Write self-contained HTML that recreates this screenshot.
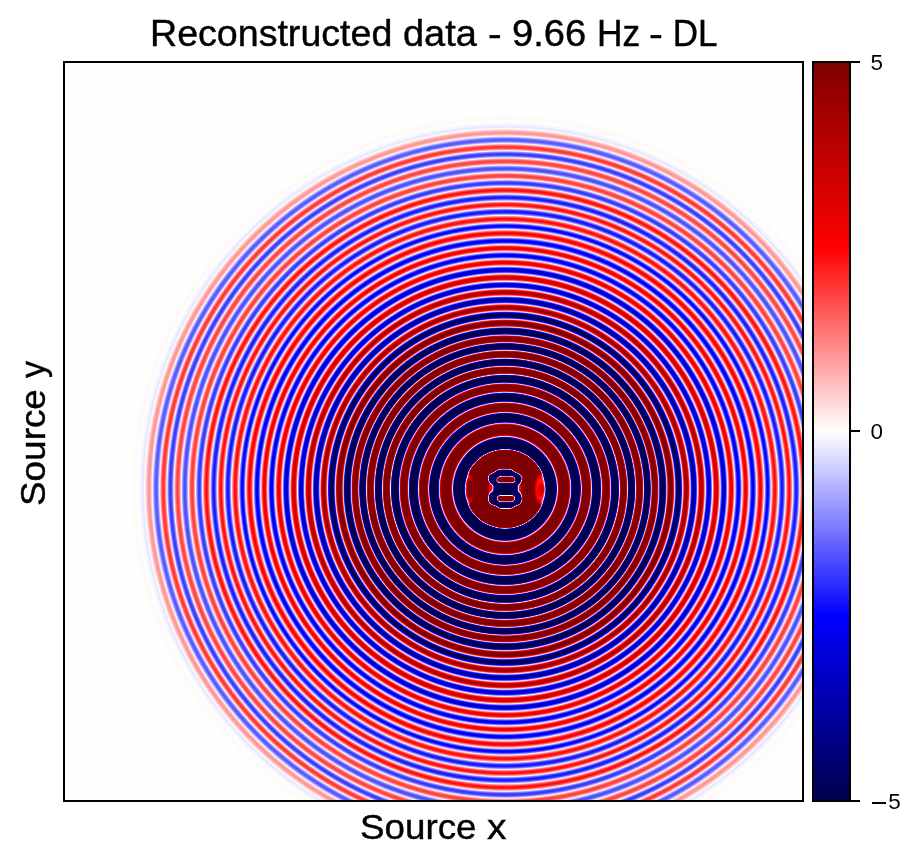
<!DOCTYPE html>
<html><head><meta charset="utf-8">
<style>
html,body{margin:0;padding:0;background:#fff;}
body{width:922px;height:865px;overflow:hidden;position:relative;font-family:"Liberation Sans",sans-serif;color:#000;}
.w{position:absolute;white-space:nowrap;line-height:1;transform-origin:0 0;filter:grayscale(1);}
.ti{top:15px;font-size:35px;-webkit-text-stroke:0.4px #000;}
#ax{position:absolute;left:63px;top:61px;width:737px;height:737px;border:2px solid #000;background-color:#fffcfc;background-image:radial-gradient(circle at 440px 425.85px, #ff6161 0px,#ffc2c2 0.5px,#dadaff 1px,#7979ff 1.5px,#1818ff 2px,#0000cd 2.5px,#00008c 3px,#00004d 3.5px,#00004c 4px,#00004c 4.5px,#00004c 5px,#00004c 5.5px,#00004c 6px,#00004c 6.5px,#00004c 7px,#00004c 7.5px,#00004c 8px,#00004c 8.5px,#00004c 9px,#00004c 9.5px,#00004c 10px,#00004c 10.5px,#00004c 11px,#00004c 11.5px,#00004c 12px,#00004c 12.5px,#00004c 13px,#00004c 13.5px,#00004c 14px,#00004c 14.5px,#00004c 15px,#00004c 15.5px,#00004c 16px,#00004c 16.5px,#00004c 17px,#00004c 17.5px,#000066 18px,#0000a6 18.5px,#0000e8 19px,#3f3fff 19.5px,#a0a0ff 20px,#fffdfd 20.5px,#ff9b9b 21px,#ff3b3b 21.5px,#ec0000 22px,#be0000 22.5px,#900000 23px,#800000 23.5px,#800000 24px,#800000 24.5px,#800000 25px,#800000 25.5px,#800000 26px,#800000 26.5px,#800000 27px,#800000 27.5px,#800000 28px,#800000 28.5px,#800000 29px,#800000 29.5px,#800000 30px,#800000 30.5px,#800000 31px,#800000 31.5px,#800000 32px,#800000 32.5px,#800000 33px,#800000 33.5px,#800000 34px,#800000 34.5px,#800000 35px,#800000 35.5px,#800000 36px,#800000 36.5px,#800000 37px,#800000 37.5px,#ab0000 38px,#da0000 38.5px,#ff1414 39px,#ff7575 39.5px,#ffd6d6 40px,#a3a3ff 40.5px,#0707ff 41px,#000099 41.5px,#00004c 42px,#00004c 42.5px,#00004c 43px,#00004c 43.5px,#00004c 44px,#00004c 44.5px,#00004c 45px,#00004c 45.5px,#00004c 46px,#00004c 46.5px,#00004c 47px,#00004c 47.5px,#00004c 48px,#00004c 48.5px,#00004c 49px,#00004c 49.5px,#00004c 50px,#00004c 50.5px,#000085 51px,#0000ee 51.5px,#8383ff 52px,#ffe0e0 52.5px,#ff5151 53px,#e10000 53.5px,#9d0000 54px,#800000 54.5px,#800000 55px,#800000 55.5px,#800000 56px,#800000 56.5px,#800000 57px,#800000 57.5px,#800000 58px,#800000 58.5px,#800000 59px,#800000 59.5px,#800000 60px,#800000 60.5px,#800000 61px,#800000 61.5px,#800000 62px,#800000 62.5px,#800000 63px,#800000 63.5px,#870000 64px,#c90000 64.5px,#ff1d1d 65px,#ffa9a9 65.5px,#babaff 66px,#0909ff 66.5px,#00008f 67px,#00004c 67.5px,#00004c 68px,#00004c 68.5px,#00004c 69px,#00004c 69.5px,#00004c 70px,#00004c 70.5px,#00004c 71px,#00004c 71.5px,#00004c 72px,#00004c 72.5px,#00004c 73px,#00004c 73.5px,#00004c 74px,#00004c 74.5px,#000082 75px,#0000f5 75.5px,#9b9bff 76px,#ffb7b7 76.5px,#ff0c0c 77px,#b20000 77.5px,#800000 78px,#800000 78.5px,#800000 79px,#800000 79.5px,#800000 80px,#800000 80.5px,#800000 81px,#800000 81.5px,#800000 82px,#800000 82.5px,#800000 83px,#800000 83.5px,#800000 84px,#800000 84.5px,#800000 85px,#c90000 85.5px,#ff3636 86px,#ffdcdc 86.5px,#7979ff 87px,#0000df 87.5px,#000071 88px,#00004c 88.5px,#00004c 89px,#00004c 89.5px,#00004c 90px,#00004c 90.5px,#00004c 91px,#00004c 91.5px,#00004c 92px,#00004c 92.5px,#00004c 93px,#00004c 93.5px,#00004c 94px,#00004c 94.5px,#000052 95px,#0000bc 95.5px,#3e3eff 96px,#e0e0ff 96.5px,#ff6e6e 97px,#e00000 97.5px,#8e0000 98px,#800000 98.5px,#800000 99px,#800000 99.5px,#800000 100px,#800000 100.5px,#800000 101px,#800000 101.5px,#800000 102px,#800000 102.5px,#800000 103px,#800000 103.5px,#800000 104px,#b30000 104.5px,#ff0d0d 105px,#ffb8b8 105.5px,#9696ff 106px,#0000ee 106.5px,#00007b 107px,#00004c 107.5px,#00004c 108px,#00004c 108.5px,#00004c 109px,#00004c 109.5px,#00004c 110px,#00004c 110.5px,#00004c 111px,#00004c 111.5px,#00004c 112px,#00004c 112.5px,#000056 113px,#0000c5 113.5px,#5454ff 114px,#fffdfd 114.5px,#ff4242 115px,#c70000 115.5px,#800000 116px,#800000 116.5px,#800000 117px,#800000 117.5px,#800000 118px,#800000 118.5px,#800000 119px,#800000 119.5px,#800000 120px,#800000 120.5px,#800000 121px,#ba0000 121.5px,#ff2323 122px,#ffd8d8 122.5px,#6e6eff 123px,#0000cf 123.5px,#00005c 124px,#00004c 124.5px,#00004c 125px,#00004c 125.5px,#00004c 126px,#00004c 126.5px,#00004c 127px,#00004c 127.5px,#00004c 128px,#00004c 128.5px,#00004c 129px,#0000a5 129.5px,#2b2bff 130px,#ddddff 130.5px,#ff6e6e 131px,#e00000 131.5px,#900000 132px,#800000 132.5px,#800000 133px,#800000 133.5px,#800000 134px,#800000 134.5px,#800000 135px,#800000 135.5px,#800000 136px,#800000 136.5px,#800000 137px,#c50000 137.5px,#ff3030 138px,#ffdbdb 138.5px,#7171ff 139px,#0000d6 139.5px,#000067 140px,#00004c 140.5px,#00004c 141px,#00004c 141.5px,#00004c 142px,#00004c 142.5px,#00004c 143px,#00004c 143.5px,#00004c 144px,#00004c 144.5px,#00009b 145px,#1212ff 145.5px,#bcbcff 146px,#ff9696 146.5px,#f70000 147px,#a90000 147.5px,#800000 148px,#800000 148.5px,#800000 149px,#800000 149.5px,#800000 150px,#800000 150.5px,#800000 151px,#800000 151.5px,#800000 152px,#b30000 152.5px,#fe0000 153px,#ff9c9c 153.5px,#c4c4ff 154px,#3030ff 154.5px,#0000c0 155px,#00006a 155.5px,#00004c 156px,#00004c 156.5px,#00004c 157px,#00004c 157.5px,#00004c 158px,#00004c 158.5px,#00004c 159px,#00004c 159.5px,#00006e 160px,#0000c0 160.5px,#2828ff 161px,#afafff 161.5px,#ffc6c6 162px,#ff4141 162.5px,#e10000 163px,#aa0000 163.5px,#800000 164px,#800000 164.5px,#800000 165px,#800000 165.5px,#800000 166px,#800000 166.5px,#800000 167px,#870000 167.5px,#b50000 168px,#ea0000 168.5px,#ff4949 169px,#ffc1c1 169.5px,#c5c5ff 170px,#5252ff 170.5px,#0000ed 171px,#0000ac 171.5px,#000076 172px,#00004d 172.5px,#00004c 173px,#00004c 173.5px,#00004c 174px,#00004c 174.5px,#000063 175px,#000091 175.5px,#0000ca 176px,#1010ff 176.5px,#7373ff 177px,#d8d8ff 177.5px,#ffbcbc 178px,#ff5656 178.5px,#fc0000 179px,#d40000 179.5px,#b60000 180px,#a10000 180.5px,#960000 181px,#950000 181.5px,#9e0000 182px,#b10000 182.5px,#cd0000 183px,#f00000 183.5px,#ff3434 184px,#ff8d8d 184.5px,#ffeaea 185px,#b9b9ff 185.5px,#6464ff 186px,#1717ff 186.5px,#0000e1 187px,#0000bd 187.5px,#0000a4 188px,#000097 188.5px,#000096 189px,#00009d 189.5px,#0000b1 190px,#0000cf 190.5px,#0000f8 191px,#3c3cff 191.5px,#8a8aff 192px,#dfdfff 192.5px,#ffc9c9 193px,#ff7575 193.5px,#ff2626 194px,#ef0000 194.5px,#d10000 195px,#bb0000 195.5px,#ad0000 196px,#a80000 196.5px,#ac0000 197px,#bc0000 197.5px,#d40000 198px,#f30000 198.5px,#ff2f2f 199px,#ff7d7d 199.5px,#ffcdcd 200px,#e0e0ff 200.5px,#9090ff 201px,#4848ff 201.5px,#0c0cff 202px,#0000e7 202.5px,#0000d1 203px,#0000c6 203.5px,#0000c8 204px,#0000ce 204.5px,#0000e0 205px,#0000fc 205.5px,#3131ff 206px,#7070ff 206.5px,#b6b6ff 207px,#fffdfd 207.5px,#ffb5b5 208px,#ff7070 208.5px,#ff3131 209px,#fc0000 209.5px,#e50000 210px,#d50000 210.5px,#cc0000 211px,#cc0000 211.5px,#d40000 212px,#e20000 212.5px,#f70000 213px,#ff2626 213.5px,#ff6464 214px,#ffa8a8 214.5px,#ffefef 215px,#c8c8ff 215.5px,#8484ff 216px,#4545ff 216.5px,#0f0fff 217px,#0000eb 217.5px,#0000d6 218px,#0000ca 218.5px,#0000c8 219px,#0000d0 219.5px,#0000e3 220px,#0000fe 220.5px,#2f2fff 221px,#6868ff 221.5px,#a6a6ff 222px,#e7e7ff 222.5px,#ffd4d4 223px,#ff9393 223.5px,#ff5858 224px,#ff2626 224.5px,#fe0000 225px,#f10000 225.5px,#eb0000 226px,#eb0000 226.5px,#f10000 227px,#fe0000 227.5px,#ff2525 228px,#ff5555 228.5px,#ff8d8d 229px,#ffcaca 229.5px,#f4f4ff 230px,#b6b6ff 230.5px,#7c7cff 231px,#4848ff 231.5px,#1d1dff 232px,#0000fd 232.5px,#0000f0 233px,#0000eb 233.5px,#0000f0 234px,#0000fe 234.5px,#1e1eff 235px,#4949ff 235.5px,#7d7dff 236px,#b7b7ff 236.5px,#f5f5ff 237px,#ffcbcb 237.5px,#ff9090 238px,#ff5959 238.5px,#ff2a2a 239px,#ff0606 239.5px,#f50000 240px,#ef0000 240.5px,#f00000 241px,#f70000 241.5px,#ff0d0d 242px,#ff3434 242.5px,#ff6464 243px,#ff9c9c 243.5px,#ffd8d8 244px,#e9e9ff 244.5px,#aeaeff 245px,#7777ff 245.5px,#4747ff 246px,#1f1fff 246.5px,#0101ff 247px,#0000f3 247.5px,#0000ef 248px,#0000f4 248.5px,#0303ff 249px,#2222ff 249.5px,#4b4bff 250px,#7b7bff 250.5px,#b1b1ff 251px,#eaeaff 251.5px,#ffdbdb 252px,#ffa5a5 252.5px,#ff7373 253px,#ff4747 253.5px,#ff2323 254px,#ff0909 254.5px,#fc0000 255px,#f90000 255.5px,#fc0000 256px,#ff0a0a 256.5px,#ff2525 257px,#ff4949 257.5px,#ff7575 258px,#ffa7a7 258.5px,#ffdcdc 259px,#e9e9ff 259.5px,#aeaeff 260px,#7777ff 260.5px,#4848ff 261px,#2222ff 261.5px,#0707ff 262px,#0000fb 262.5px,#0000fc 263px,#0b0bff 263.5px,#2626ff 264px,#4c4cff 264.5px,#7b7bff 265px,#b1b1ff 265.5px,#eaeaff 266px,#ffdcdc 266.5px,#ffa8a8 267px,#ff7878 267.5px,#ff4e4e 268px,#ff2d2d 268.5px,#ff1616 269px,#ff0a0a 269.5px,#ff0909 270px,#ff1212 270.5px,#ff2626 271px,#ff4444 271.5px,#ff6b6b 272px,#ff9898 272.5px,#ffc9c9 273px,#fffdfd 273.5px,#cdcdff 274px,#9b9bff 274.5px,#6e6eff 275px,#4949ff 275.5px,#2c2cff 276px,#1919ff 276.5px,#1212ff 277px,#1515ff 277.5px,#2323ff 278px,#3c3cff 278.5px,#5e5eff 279px,#8888ff 279.5px,#b8b8ff 280px,#ececff 280.5px,#ffdcdc 281px,#ffa8a8 281.5px,#ff7777 282px,#ff4d4d 282.5px,#ff2c2c 283px,#ff1515 283.5px,#ff0a0a 284px,#ff0b0b 284.5px,#ff1818 285px,#ff3131 285.5px,#ff5555 286px,#ff8181 286.5px,#ffb2b2 287px,#ffe7e7 287.5px,#e2e2ff 288px,#afafff 288.5px,#8181ff 289px,#5959ff 289.5px,#3939ff 290px,#2323ff 290.5px,#1717ff 291px,#1717ff 291.5px,#2121ff 292px,#3535ff 292.5px,#5353ff 293px,#7979ff 293.5px,#a6a6ff 294px,#d8d8ff 294.5px,#fff3f3 295px,#ffc1c1 295.5px,#ff9292 296px,#ff6767 296.5px,#ff4343 297px,#ff2626 297.5px,#ff1313 298px,#ff0909 298.5px,#ff0b0b 299px,#ff1a1a 299.5px,#ff3333 300px,#ff5454 300.5px,#ff7c7c 301px,#ffa8a8 301.5px,#ffd7d7 302px,#f7f7ff 302.5px,#c6c6ff 303px,#9999ff 303.5px,#7373ff 304px,#5555ff 304.5px,#4040ff 305px,#3535ff 305.5px,#3535ff 306px,#3d3dff 306.5px,#4f4fff 307px,#6969ff 307.5px,#8b8bff 308px,#b2b2ff 308.5px,#ddddff 309px,#fff4f4 309.5px,#ffcaca 310px,#ffa2a2 310.5px,#ff7f7f 311px,#ff6161 311.5px,#ff4c4c 312px,#ff3f3f 312.5px,#ff3b3b 313px,#ff4040 313.5px,#ff4f4f 314px,#ff6565 314.5px,#ff8282 315px,#ffa5a5 315.5px,#ffcccc 316px,#fff5f5 316.5px,#e0e0ff 317px,#b9b9ff 317.5px,#9696ff 318px,#7878ff 318.5px,#6161ff 319px,#5151ff 319.5px,#4a4aff 320px,#4b4bff 320.5px,#5454ff 321px,#6565ff 321.5px,#7e7eff 322px,#9d9dff 322.5px,#c1c1ff 323px,#e9e9ff 323.5px,#ffeded 324px,#ffc5c5 324.5px,#ff9f9f 325px,#ff7e7e 325.5px,#ff6363 326px,#ff4f4f 326.5px,#ff4343 327px,#ff3f3f 327.5px,#ff4545 328px,#ff5353 328.5px,#ff6969 329px,#ff8787 329.5px,#ffaaaa 330px,#ffd2d2 330.5px,#fffdfd 331px,#d5d5ff 331.5px,#acacff 332px,#8585ff 332.5px,#6565ff 333px,#4c4cff 333.5px,#3b3bff 334px,#3535ff 334.5px,#3939ff 335px,#4747ff 335.5px,#5e5eff 336px,#7c7cff 336.5px,#a2a2ff 337px,#ccccff 337.5px,#f8f8ff 338px,#ffdada 338.5px,#ffafaf 339px,#ff8888 339.5px,#ff6767 340px,#ff4c4c 340.5px,#ff3a3a 341px,#ff3232 341.5px,#ff3333 342px,#ff3f3f 342.5px,#ff5555 343px,#ff7171 343.5px,#ff9494 344px,#ffbbbb 344.5px,#ffe4e4 345px,#f1f1ff 345.5px,#cbcbff 346px,#a8a8ff 346.5px,#8a8aff 347px,#7272ff 347.5px,#6060ff 348px,#5656ff 348.5px,#5454ff 349px,#5b5bff 349.5px,#6a6aff 350px,#7e7eff 350.5px,#9797ff 351px,#b4b4ff 351.5px,#d1d1ff 352px,#efefff 352.5px,#fff1f1 353px,#ffd7d7 353.5px,#ffc0c0 354px,#ffadad 354.5px,#ff9f9f 355px,#ff9797 355.5px,#ff9595 356px,#ff9797 356.5px,#ff9f9f 357px,#ffabab 357.5px,#ffb9b9 358px,#ffc9c9 358.5px,#ffdada 359px,#ffeaea 359.5px,#fff8f8 360px,#fafaff 360.5px,#f1f1ff 361px,#ebebff 361.5px,#e8e8ff 362px,#e8e8ff 362.5px,#ebebff 363px,#efefff 363.5px,#f5f5ff 364px,#f6f6ff 364.5px,#f7f7ff 365px,#f9f9ff 365.5px,#fbfbff 366px,#fdfdff 366.5px,#ffffff 367px,#fffdfd 367.5px,#fffcfc 368px,#fffbfb 368.5px,#fffafa 369px,#fff9f9 369.5px,#fff9f9 370px,#fff9f9 370.5px,#fffafa 371px,#fffafa 371.5px,#fffafa 372px,#fffbfb 372.5px,#fffbfb 373px,#fffcfc 373.5px,#fffcfc 374px,#fffdfd 374.5px,#fffdfd 375px,#fffdfd 375.5px,#fffefe 376px,#fffefe 376.5px,#fffefe 377px,#fffefe 377.5px,#fffefe 378px,#fffdfd 378.5px,#fffdfd 379px,#fffdfd 379.5px,#fffdfd 380px,#fffdfd 380.5px,#fffdfd 381px,#fffdfd 381.5px,#fffdfd 382px,#fffdfd 382.5px,#fffdfd 383px,#fffdfd 383.5px,#fffdfd 384px,#fffdfd 384.5px,#fffdfd 385px,#fffdfd 385.5px,#fffdfd 386px,#fffdfd 386.5px,#fffdfd 387px,#fffdfd 387.5px,#fffdfd 388px,#fffdfd 388.5px,#fffdfd 389px,#fffdfd 389.5px,#fffdfd 390px,#fffdfd 390.5px,#fffdfd 391px,#fffdfd 391.5px,#fffdfd 392px,#fffdfd 392.5px,#fffdfd 393px,#fffdfd 393.5px,#fffdfd 394px,#fffdfd 394.5px,#fffdfd 395px,#fffdfd 395.5px,#fffdfd 396px,#fffdfd 396.5px,#fffdfd 397px,#fffdfd 397.5px,#fffdfd 398px,#fffdfd 398.5px,#fffdfd 399px,#fffdfd 399.5px,#fffdfd 400px,#fffdfd 400.5px,#fffdfd 401px,#fffdfd 401.5px,#fffdfd 402px,#fffdfd 402.5px,#fffdfd 403px,#fffdfd 403.5px,#fffdfd 404px,#fffdfd 404.5px,#fffdfd 405px,#fffdfd 405.5px,#fffdfd 406px,#fffdfd 406.5px,#fffdfd 407px,#fffdfd 407.5px,#fffdfd 408px,#fffdfd 408.5px,#fffdfd 409px,#fffdfd 409.5px,#fffdfd 410px,#fffdfd 410.5px,#fffdfd 411px,#fffdfd 411.5px,#fffdfd 412px,#fffdfd 412.5px,#fffdfd 413px,#fffdfd 413.5px,#fffdfd 414px,#fffdfd 414.5px,#fffdfd 415px,#fffdfd 415.5px,#fffdfd 416px,#fffdfd 416.5px,#fffdfd 417px,#fffdfd 417.5px,#fffdfd 418px,#fffdfd 418.5px,#fffdfd 419px,#fffdfd 419.5px,#fffdfd 420px);overflow:hidden;}
#cb{position:absolute;left:812px;top:61px;width:35px;height:737px;border:2px solid #000;background:linear-gradient(to bottom,#800000 0%,#ff0000 25%,#ffffff 50%,#0000ff 75%,#00004d 100%);}
.tk{position:absolute;left:851px;width:9px;height:2px;background:#000;}
.xl{top:808.5px;font-size:35px;-webkit-text-stroke:0.4px #000;}
.cl{font-size:22.5px;}
#yl{position:absolute;left:0;top:0;width:160px;height:40px;transform-origin:0 0;transform:translate(14.6px,506px) rotate(-90deg);}
#yl .w{top:0;font-size:35px;-webkit-text-stroke:0.4px #000;}
</style></head><body>
<div class="w ti" style="left:149.98px;transform:scale(1.0738,1.03)">Reconstructed</div>
<div class="w ti" style="left:402.83px;transform:scale(1.0848,1.03)">data</div>
<div class="w ti" style="left:488.35px;transform:scale(1.175,1.03)">-</div>
<div class="w ti" style="left:511.82px;transform:scale(1.089,1.03)">9.66</div>
<div class="w ti" style="left:596.97px;transform:scale(1.0105,1.03)">Hz</div>
<div class="w ti" style="left:649.03px;transform:scale(1.1875,1.03)">-</div>
<div class="w ti" style="left:672.8px;transform:scale(1,1.03)">DL</div>
<div id="ax"></div>
<svg id="cen" width="737" height="737" viewBox="65 63 737 737" style="position:absolute;left:65px;top:63px"><defs><filter id="cm" x="440" y="424" width="130" height="130" filterUnits="userSpaceOnUse" color-interpolation-filters="sRGB"><feGaussianBlur stdDeviation="1.7"/><feComponentTransfer><feFuncR type="table" tableValues="0 0 0 0 0 0 0 0 0 0 0 0 0 0 0 0 0.2 0.4 0.6 0.8 1 1 1 1 1 1 0.9 0.8 0.7 0.6 0.5 0.5 0.5 0.5 0.5 0.5 0.5 0.5 0.5 0.5 0.5"/><feFuncG type="table" tableValues="0 0 0 0 0 0 0 0 0 0 0 0 0 0 0 0 0.2 0.4 0.6 0.8 1 0.8 0.6 0.4 0.2 0 0 0 0 0 0 0 0 0 0 0 0 0 0 0 0"/><feFuncB type="table" tableValues="0.3 0.3 0.3 0.3 0.3 0.3 0.3 0.3 0.3 0.3 0.3 0.44 0.58 0.72 0.86 1 1 1 1 1 1 0.8 0.6 0.4 0.2 0 0 0 0 0 0 0 0 0 0 0 0 0 0 0 0"/></feComponentTransfer></filter><filter id="sb" x="440" y="424" width="130" height="130" filterUnits="userSpaceOnUse" color-interpolation-filters="sRGB"><feGaussianBlur stdDeviation="0.9"/></filter><clipPath id="cc"><circle cx="505.2" cy="488.9" r="46"/></clipPath><clipPath id="ce"><ellipse cx="505.2" cy="488.9" rx="40.7" ry="39.6"/></clipPath></defs><g clip-path="url(#cc)"><g filter="url(#cm)"><rect x="440" y="424" width="130" height="130" fill="#000000"/><ellipse cx="505.2" cy="488.9" rx="40.7" ry="39.6" fill="#ffffff"/><g clip-path="url(#ce)"><g filter="url(#sb)"><ellipse cx="469.8" cy="489.2" rx="6.6" ry="16" fill="#a1a1a1"/><ellipse cx="469.9" cy="489.1" rx="3.4" ry="10.5" fill="#cccccc"/><ellipse cx="539.8" cy="489.3" rx="6.6" ry="16" fill="#9c9c9c"/><ellipse cx="541.6" cy="489.8" rx="1.8" ry="5" fill="#bdbdbd"/><ellipse cx="490" cy="488.9" rx="3.5" ry="6" fill="#999999"/><ellipse cx="488.8" cy="488.9" rx="1.2" ry="2.5" fill="#b9b9b9"/><ellipse cx="520.3" cy="488.9" rx="3.5" ry="6" fill="#999999"/><ellipse cx="520.6" cy="488.9" rx="1.2" ry="2.5" fill="#b9b9b9"/><ellipse cx="501" cy="458.4" rx="10" ry="1.3" fill="#b5b5b5"/><ellipse cx="502" cy="519.6" rx="10" ry="1.3" fill="#b5b5b5"/></g></g><path d="M511.00,469.25C509.88,469.10 507.15,469.20 505.20,469.20C503.25,469.20 500.57,469.10 499.30,469.25C498.03,469.40 498.32,469.62 497.60,470.10C496.88,470.58 496.02,471.55 495.00,472.10C493.98,472.65 492.48,472.97 491.50,473.40C490.52,473.83 489.64,474.13 489.10,474.70C488.56,475.27 488.35,475.87 488.25,476.80C488.15,477.73 488.24,479.35 488.50,480.30C488.76,481.25 489.15,481.92 489.80,482.50C490.45,483.08 491.73,483.33 492.40,483.80C493.07,484.27 493.58,484.45 493.80,485.30C494.02,486.15 493.70,487.87 493.70,488.90C493.70,489.93 494.17,490.85 493.80,491.50C493.43,492.15 492.28,492.23 491.50,492.80C490.72,493.37 489.64,494.03 489.10,494.90C488.56,495.77 488.28,496.83 488.25,498.00C488.22,499.17 488.42,500.85 488.90,501.90C489.38,502.95 490.08,503.68 491.10,504.30C492.12,504.92 493.92,505.13 495.00,505.60C496.08,506.07 496.81,506.63 497.60,507.10C498.39,507.57 498.47,508.17 499.75,508.40C501.03,508.63 503.43,508.50 505.30,508.50C507.18,508.50 509.75,508.53 511.00,508.40C512.25,508.27 512.07,508.13 512.80,507.70C513.53,507.27 514.32,506.33 515.40,505.80C516.48,505.27 518.30,505.15 519.30,504.50C520.30,503.85 520.93,502.92 521.40,501.90C521.87,500.88 522.10,499.48 522.10,498.40C522.10,497.32 521.87,496.27 521.40,495.40C520.93,494.53 519.97,493.78 519.30,493.20C518.63,492.62 517.73,492.62 517.40,491.90C517.07,491.18 517.30,490.00 517.30,488.90C517.30,487.80 517.15,486.15 517.40,485.30C517.65,484.45 518.20,484.35 518.80,483.80C519.40,483.25 520.45,482.80 521.00,482.00C521.55,481.20 522.03,480.00 522.10,479.00C522.17,478.00 521.87,476.83 521.40,476.00C520.93,475.17 520.30,474.58 519.30,474.00C518.30,473.42 516.63,473.15 515.40,472.50C514.17,471.85 512.63,470.64 511.90,470.10C511.17,469.56 512.12,469.40 511.00,469.25Z" fill="#000000"/><path d="M499.50,476.40C500.93,476.22 503.78,476.30 506.00,476.30C508.22,476.30 511.37,476.22 512.80,476.40C514.23,476.58 514.17,476.83 514.60,477.40C515.03,477.97 515.35,479.00 515.40,479.80C515.45,480.60 515.38,481.72 514.90,482.20C514.42,482.68 513.98,482.61 512.50,482.70C511.02,482.79 508.25,482.75 506.00,482.75C503.75,482.75 500.50,482.79 499.00,482.70C497.50,482.61 497.42,482.68 497.00,482.20C496.58,481.72 496.43,480.60 496.50,479.80C496.57,479.00 496.90,477.97 497.40,477.40C497.90,476.83 498.07,476.58 499.50,476.40Z" fill="#ffffff"/><path d="M498.60,495.60C500.05,495.46 503.47,495.55 506.00,495.55C508.53,495.55 512.35,495.43 513.80,495.60C515.25,495.78 514.52,496.13 514.70,496.60C514.88,497.07 514.97,497.73 514.90,498.40C514.83,499.07 514.62,500.05 514.30,500.60C513.98,501.15 514.38,501.51 513.00,501.70C511.62,501.89 508.25,501.75 506.00,501.75C503.75,501.75 500.90,501.88 499.50,501.70C498.10,501.52 498.03,501.25 497.60,500.70C497.17,500.15 496.95,499.12 496.90,498.40C496.85,497.68 497.02,496.87 497.30,496.40C497.58,495.93 497.15,495.74 498.60,495.60Z" fill="#ffffff"/></g></g></svg>
<div id="cb"></div>
<div class="tk" style="top:61px"></div>
<div class="tk" style="top:430px"></div>
<div class="tk" style="top:800px"></div>
<div class="w cl" style="left:870.4px;top:52px">5</div>
<div class="w cl" style="left:870.6px;top:421px">0</div>
<div style="position:absolute;left:872px;top:802px;width:14px;height:2px;background:#000"></div>
<div class="w cl" style="left:888.2px;top:791px">5</div>
<div class="w xl" style="left:360.2px;transform:scaleX(1.0505)">Source</div>
<div class="w xl" style="left:486.7px;transform:scaleX(1.1125)">x</div>
<div id="yl"><div class="w" style="left:0;transform:scaleX(1.054)">Source</div><div class="w" style="left:127.9px;transform:scaleX(0.976)">y</div></div>
</body></html>
